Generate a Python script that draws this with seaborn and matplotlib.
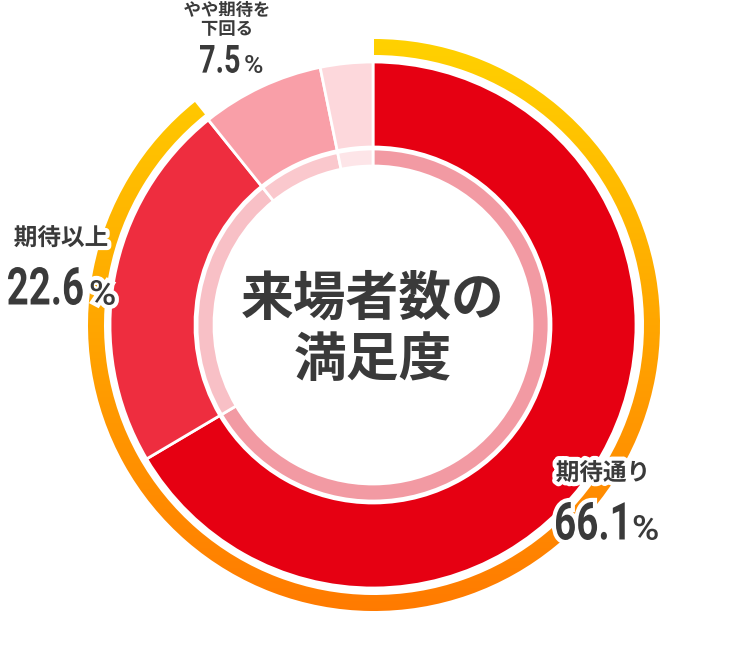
import seaborn as sns
import matplotlib.pyplot as plt
import matplotlib.patheffects as pe
from matplotlib.patches import Wedge, Circle, PathPatch
from matplotlib.textpath import TextPath
from matplotlib.font_manager import FontProperties
from matplotlib.transforms import Affine2D
from matplotlib.colors import LinearSegmentedColormap
import numpy as np

# data (last slice is unlabelled, estimated from its angle)
categories = ['期待通り', '期待以上', 'やや期待を\n下回る', '期待を下回る']
shares = [66.1, 22.6, 7.5, 3.2]
outer_colors = ['#e60012', '#ee2d3f', '#f99fa8', '#fdd8dc']
inner_colors = ['#f29aa3', '#f8c0c6', '#fac8cd', '#fde5e8']
center_title = '来場者数の\n満足度'

sns.set_theme(style='white')
plt.rcParams['font.family'] = ['Noto Sans CJK JP', 'DejaVu Sans']

fig = plt.figure(figsize=(7.29, 6.51), dpi=100)
ax = fig.add_axes([0, 0, 1, 1])

cx, cy = 373, 326
gap = dict(edgecolor='white', linewidth=2)

# main ring
ax.pie(shares, radius=263, center=(cx, cy), startangle=90, counterclock=False,
       colors=outer_colors, wedgeprops=dict(width=85, **gap), frame=True)
# thin inner ring
ax.pie(shares, radius=176, center=(cx, cy), startangle=90, counterclock=False,
       colors=inner_colors, wedgeprops=dict(width=17, **gap), frame=True)
ax.add_patch(Circle((cx, cy), 158, facecolor='white', edgecolor='none', zorder=3))

# gradient arc over 期待通り + 期待以上
span = (shares[0] + shares[1]) / sum(shares) * 360
arc = Wedge((cx + 1, cy), 286, 90 - span, 90, width=16, facecolor='none', edgecolor='none')
ax.add_patch(arc)
cmap = LinearSegmentedColormap.from_list('yo', ['#ffd200', '#ff7a00'])
grad = np.linspace(1, 0, 256).reshape(-1, 1)
img = ax.imshow(grad, cmap=cmap, extent=(cx - 290, cx + 290, cy - 290, cy + 290),
                origin='lower', aspect='auto', zorder=2)
img.set_clip_path(arc)

ax.set_xlim(0, 729)
ax.set_ylim(0, 651)
ax.set_aspect('equal')
ax.axis('off')

# centre title
ax.text(cx, 651 - 330, center_title, ha='center', va='center', fontsize=38,
        fontweight='bold', color='#3a3a3a', linespacing=1.2, zorder=5)

dark = '#3a3a3a'
halo = [pe.withStroke(linewidth=6, foreground='white')]
num_prop = FontProperties(family='Roboto', weight='bold')
pct_prop = FontProperties(family='Roboto', weight='medium')


def glyphs(s, x, y_top, height, prop, squeeze=None, width=None):
    # text drawn as a path, scaled to the given size; left edge x, top y_top (image px)
    tp = TextPath((0, 0), s, size=100, prop=prop)
    ext = tp.get_extents()
    sy = height / (ext.y1 - ext.y0)
    sx = sy * squeeze if width is None else width / (ext.x1 - ext.x0)
    tr = Affine2D().translate(-ext.x0, -ext.y1).scale(sx, sy).translate(x, 651 - y_top)
    ax.add_patch(PathPatch(tr.transform_path(tp), facecolor=dark, edgecolor='none',
                           zorder=6, path_effects=halo))
    return x + (ext.x1 - ext.x0) * sx


def label(name, value, nx, ny, vx, vtop, name_size, num_h, pct_h, pct_w, pct_gap):
    ax.text(nx, 651 - ny, name, ha='center', va='center', fontsize=name_size,
            fontweight='bold', color=dark, linespacing=1.05,
            path_effects=halo, zorder=6)
    end = glyphs(f'{value}', vx, vtop, num_h, num_prop, squeeze=0.74)
    glyphs('%', end + pct_gap, vtop + (num_h - pct_h), pct_h, pct_prop, width=pct_w)


label(categories[0], shares[0], 603, 473, 556, 502, 17, 38, 25, 24, 9)
label(categories[1], shares[1], 61, 238, 8, 267, 17, 38, 25, 24, 8)
label(categories[2], shares[2], 227, 20, 200, 45, 12.5, 28, 18, 17, 6)

plt.savefig('out.png', dpi=100)
plt.close()
